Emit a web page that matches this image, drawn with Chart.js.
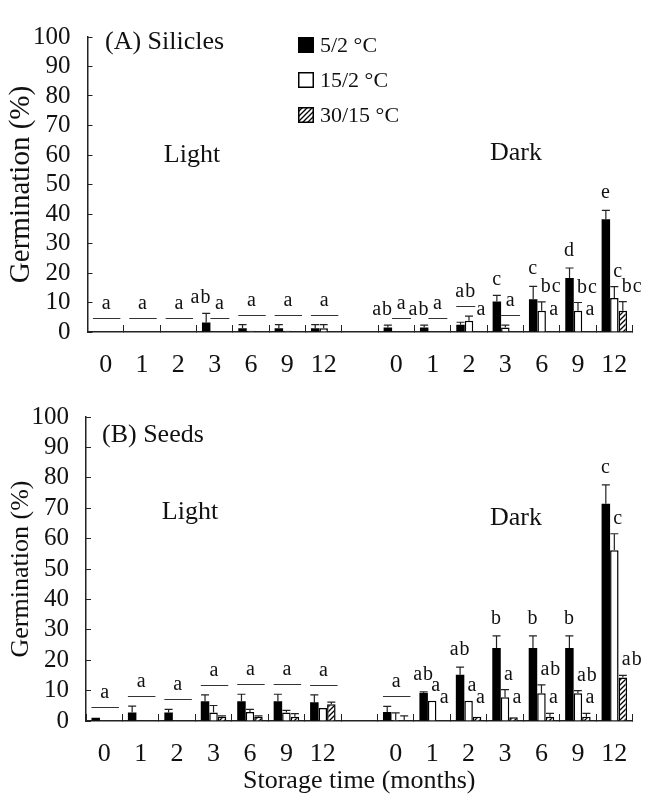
<!DOCTYPE html>
<html>
<head>
<meta charset="utf-8">
<script src="https://cdn.jsdelivr.net/npm/chart.js@4.4.1/dist/chart.umd.min.js"></script>
<style>
    html, body { margin: 0; padding: 0; background: #fff; }
    #wrap { position: relative; width: 653px; height: 803px; }
    #boxA { position: absolute; left: 0; top: 0; width: 653px; height: 380px; }
    #boxB { position: absolute; left: 0; top: 380px; width: 653px; height: 423px; }
</style>
</head>
<body>
<div id="wrap">
    <div id="boxA"><canvas id="chartA" width="653" height="380"></canvas></div>
    <div id="boxB"><canvas id="chartB" width="653" height="423"></canvas></div>
</div>
<script>
// Categories: 7 storage times in light, an empty gap, 7 in dark
const months = ['0', '1', '2', '3', '6', '9', '12', '', '0', '1', '2', '3', '6', '9', '12'];
const seriesNames = ['5/2 °C', '15/2 °C', '30/15 °C'];
const yTicks = [0, 10, 20, 30, 40, 50, 60, 70, 80, 90, 100];

// (A) Silicles - mean germination (%) and standard error
const silBlack   = [0, 0, 0, 3.2, 1.3, 1.3, 1.3, null, 1.5, 1.5, 2.5, 10.3, 11.1, 18.3, 38.2];
const silWhite   = [0, 0, 0, 0, 0.4, 0.4, 1.3, null, 0, 0, 3.8, 1.5, 7.2, 7.2, 11.5];
const silHatch   = [0, 0, 0, 0, 0, 0, 0, null, 0, 0, 0, 0, 0, 0, 7.2];
const silBlackSE = [0, 0, 0, 3.1, 1.2, 1.2, 1.2, null, 0.8, 0.8, 0.8, 2.1, 4.4, 3.4, 3.0];
const silWhiteSE = [0, 0, 0, 0, 0, 0, 1.2, null, 0, 0, 1.6, 0.8, 3.0, 2.8, 3.9];
const silHatchSE = [0, 0, 0, 0, 0, 0, 0, null, 0, 0, 0, 0, 0, 0, 3.1];
const silBlackLetters = ['', '', '', 'ab', '', '', '', '', 'ab', 'ab', '', 'c', 'c', 'd', 'e'];
const silWhiteLetters = ['', '', '', '', '', '', '', '', '', '', '', '', 'bc', 'bc', 'c'];
const silHatchLetters = ['', '', '', '', '', '', '', '', '', '', 'a', '', 'a', 'a', 'bc'];
const silGroupLetter  = ['a', 'a', 'a', 'a', 'a', 'a', 'a', '', 'a', 'a', 'ab', 'a', '', '', ''];
const silGroupFrom    = [0, 0, 0, 1, 0, 0, 0, 0, 1, 1, 0, 1, 0, 0, 0];
const silGroupTo      = [2, 2, 2, 2, 2, 2, 2, 2, 2, 2, 1, 2, 2, 2, 2];

// (B) Seeds
const seedBlack   = [1.1, 2.8, 2.8, 6.5, 6.5, 6.5, 6.2, null, 3.0, 9.2, 15.2, 24, 24, 24, 71.5];
const seedWhite   = [0, 0, 0, 2.8, 3.0, 2.8, 4.3, null, 0.3, 6.7, 6.7, 7.8, 9.1, 9.1, 56.2];
const seedHatch   = [0, 0, 0, 1.4, 1.4, 1.4, 5.5, null, 0, 0, 1.4, 1.2, 1.4, 1.4, 14.3];
const seedBlackSE = [0, 2.1, 1.0, 2.1, 2.3, 2.3, 2.4, null, 1.8, 0.4, 2.5, 4.0, 4.0, 4.0, 6.2];
const seedWhiteSE = [0, 0, 0, 2.3, 0.8, 0.7, 0, null, 2.4, 0, 0, 2.5, 2.8, 0.9, 5.4];
const seedHatchSE = [0, 0, 0, 0.3, 0.3, 1.0, 0.7, null, 1.7, 0, 0, 0, 1.1, 1.1, 0.7];
const seedBlackLetters = ['', '', '', '', '', '', '', '', '', 'ab', 'ab', 'b', 'b', 'b', 'c'];
const seedWhiteLetters = ['', '', '', '', '', '', '', '', '', 'a', 'a', 'a', 'ab', 'ab', 'c'];
const seedHatchLetters = ['', '', '', '', '', '', '', '', '', 'a', 'a', 'a', 'a', 'a', 'ab'];
const seedGroupLetter  = ['a', 'a', 'a', 'a', 'a', 'a', 'a', '', 'a', '', '', '', '', '', ''];
const seedGroupFrom    = [0, 0, 0, 0, 0, 0, 0, 0, 0, 0, 0, 0, 0, 0, 0];
const seedGroupTo      = [2, 2, 2, 2, 2, 2, 2, 2, 2, 2, 2, 2, 2, 2, 2];

const SERIF = '"Liberation Serif", "Times New Roman", serif';
const INK = '#111';

function hatchPattern() {
    const c = document.createElement('canvas');
    c.width = 5; c.height = 5;
    const g = c.getContext('2d');
    g.fillStyle = '#fff';
    g.fillRect(0, 0, 5, 5);
    g.strokeStyle = '#000';
    g.lineWidth = 1.3;
    g.beginPath();
    g.moveTo(0, 5); g.lineTo(5, 0);
    g.moveTo(-1, 1); g.lineTo(1, -1);
    g.moveTo(4, 6); g.lineTo(6, 4);
    g.stroke();
    return g.createPattern(c, 'repeat');
}
const hatch = hatchPattern();

// error bars, significance letters, group lines and panel texts
const marks = {
    id: 'marks',
    afterDatasetsDraw(chart, args, o) {
        const ctx = chart.ctx;
        const ys = chart.scales.y;
        const sets = chart.data.datasets;
        const top = (d, i) => (sets[d].data[i] || 0) + (o.errors[d][i] || 0);
        ctx.save();

        ctx.strokeStyle = '#222';
        ctx.lineWidth = 1.2;
        sets.forEach((ds, d) => {
            chart.getDatasetMeta(d).data.forEach((bar, i) => {
                const v = ds.data[i], e = o.errors[d][i];
                if (v == null || !e) return;
                const y0 = ys.getPixelForValue(v), y1 = ys.getPixelForValue(v + e);
                ctx.beginPath();
                ctx.moveTo(bar.x, y0); ctx.lineTo(bar.x, y1);
                ctx.moveTo(bar.x - 4, y1); ctx.lineTo(bar.x + 4, y1);
                ctx.stroke();
            });
        });

        ctx.fillStyle = INK;
        ctx.font = '20px ' + SERIF;
        ctx.letterSpacing = '1px';
        ctx.textBaseline = 'alphabetic';
        o.letters.forEach((arr, d) => arr.forEach((t, i) => {
            if (!t) return;
            const bar = chart.getDatasetMeta(d).data[i];
            const py = ys.getPixelForValue(Math.max(top(d, i), 2.5)) - (d === 0 ? 12 : 10);
            if (d === 0 && o.group[i] && o.from[i] > 0) {
                ctx.textAlign = 'right';
                ctx.fillText(t, bar.x + bar.width / 2 + 1, py + 2);
            } else if (d === 0) {
                ctx.textAlign = 'center';
                ctx.fillText(t, bar.x, py);
            } else {
                ctx.textAlign = 'left';
                ctx.fillText(t, bar.x - 1, py);
            }
        }));

        ctx.strokeStyle = '#333';
        ctx.lineWidth = 1;
        ctx.textAlign = 'center';
        o.group.forEach((t, i) => {
            if (!t) return;
            const a = o.from[i], b = o.to[i];
            let m = 0;
            for (let d = a; d <= b; d++) m = Math.max(m, top(d, i));
            const py = Math.round(ys.getPixelForValue(Math.max(m + 3.3, 4.7))) + 0.5;
            const ba = chart.getDatasetMeta(a).data[i], bb = chart.getDatasetMeta(b).data[i];
            const x1 = ba.x - ba.width / 2, x2 = bb.x + bb.width / 2 + 2;
            ctx.beginPath();
            ctx.moveTo(x1, py); ctx.lineTo(x2, py);
            ctx.stroke();
            ctx.fillText(t, (x1 + x2) / 2, py - 10);
        });

        ctx.letterSpacing = '0px';
        ctx.font = '26px ' + SERIF;
        ctx.textBaseline = 'middle';
        o.texts.forEach(t => {
            ctx.textAlign = t.align;
            ctx.fillText(t.text, t.x, t.y);
        });

        if (o.legend) {
            const fills = sets.map(ds => ds.backgroundColor);
            ctx.font = '22px ' + SERIF;
            ctx.textAlign = 'left';
            seriesNames.forEach((name, k) => {
                const cy = 45 + k * 35;
                ctx.fillStyle = fills[k];
                ctx.fillRect(298, cy - 8, 16, 16);
                ctx.strokeStyle = '#000';
                ctx.lineWidth = 1.5;
                ctx.strokeRect(298.75, cy - 7.25, 14.5, 14.5);
                ctx.fillStyle = INK;
                ctx.fillText(name, 320, cy + 1);
            });
        }
        ctx.restore();
    }
};

function makeChart(id, p) {
    const bar = (k, fill, bw) => ({
        label: seriesNames[k],
        data: p.values[k],
        backgroundColor: fill,
        borderColor: '#000',
        borderWidth: bw,
        categoryPercentage: 0.7,
        barPercentage: 1
    });
    return new Chart(document.getElementById(id), {
        type: 'bar',
        data: {
            labels: months,
            datasets: [bar(0, '#000', 0), bar(1, '#fff', 1.5), bar(2, hatch, 1.5)]
        },
        options: {
            responsive: false,
            animation: false,
            layout: { padding: { top: p.top, right: 20, left: 0, bottom: 0 } },
            plugins: {
                legend: { display: false },
                tooltip: { enabled: false },
                marks: p.marks
            },
            scales: {
                x: {
                    grid: { display: true, drawOnChartArea: false, offset: true, tickLength: -7, color: '#222', lineWidth: 1 },
                    border: { display: true, color: '#222', width: 1.5 },
                    ticks: { color: INK, font: { family: SERIF, size: 26 }, padding: 25, maxRotation: 0, autoSkip: false },
                    title: p.xTitle,
                    afterFit: s => { s.height = p.xh; }
                },
                y: {
                    min: 0, max: 100,
                    afterBuildTicks: s => { s.ticks = yTicks.map(v => ({ value: v })); },
                    grid: { display: true, drawOnChartArea: false, tickLength: -5, color: '#222', lineWidth: 1 },
                    border: { display: true, color: '#222', width: 1.5 },
                    ticks: { color: INK, font: { family: SERIF, size: 25 }, padding: 22, autoSkip: false },
                    title: { display: true, text: 'Germination (%)', color: INK, font: { family: SERIF, size: p.ytSize }, padding: { top: p.ytPad, bottom: 0 } },
                    afterFit: s => { s.width = p.yw; }
                }
            }
        },
        plugins: [marks]
    });
}

makeChart('chartA', {
    values: [silBlack, silWhite, silHatch],
    top: 15, xh: 48, yw: 87.5, ytSize: 29, ytPad: 4,
    xTitle: { display: false },
    marks: {
        errors: [silBlackSE, silWhiteSE, silHatchSE],
        letters: [silBlackLetters, silWhiteLetters, silHatchLetters],
        group: silGroupLetter, from: silGroupFrom, to: silGroupTo,
        legend: true,
        texts: [
            { text: '(A) Silicles', x: 105, y: 42, align: 'left' },
            { text: 'Light', x: 192, y: 155, align: 'center' },
            { text: 'Dark', x: 516, y: 153, align: 'center' }
        ]
    }
});

makeChart('chartB', {
    values: [seedBlack, seedWhite, seedHatch],
    top: 30.7, xh: 82, yw: 86, ytSize: 26, ytPad: 6,
    xTitle: { display: true, text: 'Storage time (months)', color: INK, font: { family: SERIF, size: 26 }, padding: { top: 0, bottom: 6 } },
    marks: {
        errors: [seedBlackSE, seedWhiteSE, seedHatchSE],
        letters: [seedBlackLetters, seedWhiteLetters, seedHatchLetters],
        group: seedGroupLetter, from: seedGroupFrom, to: seedGroupTo,
        legend: false,
        texts: [
            { text: '(B) Seeds', x: 102, y: 55, align: 'left' },
            { text: 'Light', x: 190, y: 132, align: 'center' },
            { text: 'Dark', x: 516, y: 138, align: 'center' }
        ]
    }
});
</script>
</body>
</html>
